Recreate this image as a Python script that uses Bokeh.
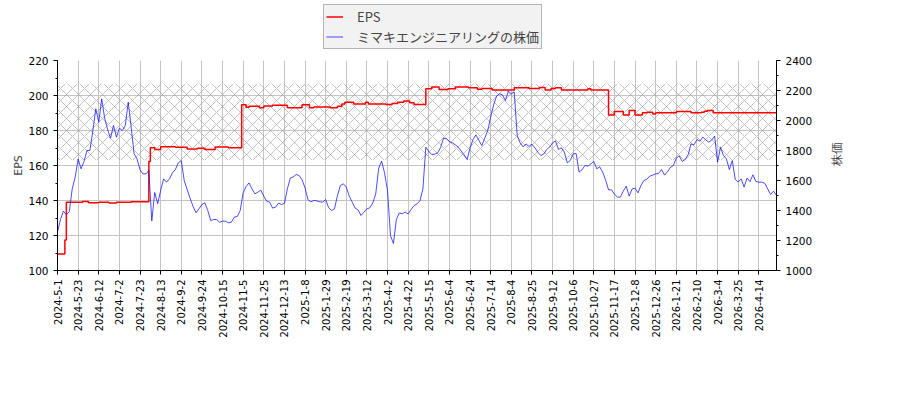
import math
from bokeh.plotting import figure
from bokeh.layouts import column
from bokeh.models import (Range1d, LinearAxis, FixedTicker, SingleIntervalTicker,
                          BoxAnnotation, Legend, LegendItem)
from bokeh.embed import file_html
from bokeh.resources import INLINE

# tick labels on the trading-day axis (one every 14 trading days)
date_labels = ["2024-5-1", "2024-5-23", "2024-6-12", "2024-7-2", "2024-7-23",
               "2024-8-13", "2024-9-2", "2024-9-24", "2024-10-15", "2024-11-5",
               "2024-11-25", "2024-12-13", "2025-1-8", "2025-1-29", "2025-2-19",
               "2025-3-12", "2025-4-2", "2025-4-22", "2025-5-15", "2025-6-4",
               "2025-6-24", "2025-7-14", "2025-8-4", "2025-8-25", "2025-9-12",
               "2025-10-6", "2025-10-27", "2025-11-17", "2025-12-8", "2025-12-26",
               "2026-1-21", "2026-2-10", "2026-3-4", "2026-3-25", "2026-4-14"]
n_days = 488

# share price, every 2nd trading day
price = [
    1256, 1340, 1396, 1371, 1393, 1544, 1622, 1744, 1678, 1727,
    1800, 1800, 1933, 2078, 1989, 2144, 2016, 1940, 1882, 1967,
    1889, 1949, 1933, 1967, 2122, 1956, 1778, 1744, 1671, 1644,
    1644, 1667, 1330, 1520, 1445, 1533, 1611, 1589, 1611, 1651,
    1673, 1718, 1733, 1600, 1540, 1482, 1427, 1385, 1411, 1440,
    1451, 1400, 1333, 1340, 1340, 1322, 1329, 1329, 1318,
    1322, 1356, 1360, 1400, 1518, 1560, 1584, 1544, 1511, 1522,
    1536, 1496, 1462, 1456, 1416, 1422, 1449, 1440, 1447, 1544,
    1616, 1624, 1640, 1633, 1604, 1551, 1471, 1458, 1467, 1464,
    1458, 1456, 1473, 1420, 1400, 1411, 1500, 1567, 1578, 1556,
    1496, 1456, 1416, 1404, 1367, 1389, 1411, 1418, 1451, 1511,
    1682, 1729, 1649, 1533, 1233, 1180, 1340, 1384, 1378, 1389,
    1378, 1407, 1433, 1444, 1465, 1544, 1822, 1793, 1773, 1776,
    1784, 1820, 1882, 1878, 1860, 1851, 1838, 1822, 1796, 1771,
    1740, 1816, 1873, 1904, 1867, 1833, 1882, 1933, 2022, 2104,
    2162, 2178, 2171, 2133, 2196, 2178, 2189, 1900, 1851, 1824,
    1844, 1827, 1842, 1818, 1789, 1767, 1776, 1807, 1822, 1851,
    1864, 1807, 1818, 1789, 1718, 1733, 1778, 1780, 1656,
    1671, 1700, 1696, 1711, 1727, 1678, 1691, 1656, 1604, 1538,
    1538, 1509, 1489, 1489, 1529, 1562, 1496, 1544, 1549, 1518,
    1567, 1600, 1609, 1629, 1636, 1644, 1647, 1673, 1636, 1658,
    1687, 1700, 1749, 1764, 1727, 1740, 1771, 1844, 1838, 1873,
    1862, 1889, 1871, 1856, 1869, 1896, 1722, 1822, 1767, 1744,
    1673, 1733, 1607, 1589, 1611, 1556, 1616, 1593, 1638, 1593,
    1589, 1589, 1582, 1544, 1507, 1529, 1500,
]

# EPS: trading day where each value starts
eps_day = [0, 5, 6, 17, 21, 28, 35, 40, 50, 62, 63, 66, 70, 80, 88, 95, 100, 107,
           116, 125, 128, 130, 137, 140, 146, 156, 166, 171, 174, 185, 190, 193,
           195, 201, 209, 211, 223, 227, 231, 235, 239, 242, 250, 254, 259, 265,
           270, 279, 285, 288, 295, 310, 320, 327, 331, 335, 338, 342, 360, 362,
           374, 378, 384, 388, 392, 397, 400, 404, 406, 420, 430, 437, 439, 441,
           445]
eps_val = [109.5, 117.5, 139.0, 139.4, 138.7, 139.0, 138.6, 139.0, 139.3, 162.3,
           170.1, 169.1, 170.7, 170.4, 169.5, 169.8, 169.1, 170.6, 170.1, 194.7,
           193.3, 193.9, 193.0, 194.0, 194.4, 193.0, 194.7, 193.0, 193.5, 193.0,
           193.9, 195.2, 196.2, 195.2, 196.2, 195.2, 194.8, 195.5, 196.2, 196.8,
           195.8, 194.9, 203.8, 204.8, 203.4, 203.8, 204.8, 204.4, 203.6, 204.0,
           203.2, 204.4, 204.0, 204.6, 203.2, 204.0, 204.4, 203.2, 203.8, 203.2,
           188.9, 190.9, 188.9, 191.4, 188.9, 190.1, 190.5, 189.5, 190.1, 190.9,
           190.1, 190.5, 191.0, 191.4, 190.1]

band_low, band_high = 163.2, 206.7

price_x = list(range(0, 2 * len(price), 2))
eps_x = eps_day + [n_days]
eps_y = eps_val + [eps_val[-1]]
tick_pos = [14 * i for i in range(len(date_labels))]

EPS_COLOR = "red"
PRICE_COLOR = "blue"

p = figure(width=884, height=328, min_border_left=57, min_border_top=8,
           min_border_right=108, min_border_bottom=110,
           x_range=Range1d(0, n_days), y_range=Range1d(100, 220),
           output_backend="svg", toolbar_location=None)
p.extra_y_ranges = {"price": Range1d(1000, 2400)}
p.outline_line_color = None
p.background_fill_color = "white"
p.border_fill_color = "white"

band = BoxAnnotation(bottom=band_low, top=band_high, fill_alpha=0, line_alpha=0,
                     hatch_pattern="diagonal_cross", hatch_scale=12,
                     hatch_color="#999999", hatch_weight=0.6, level="underlay")
p.add_layout(band)

p.step(eps_x, eps_y, mode="after", color=EPS_COLOR, line_width=1.5)
p.line(price_x, price, color=PRICE_COLOR, alpha=0.7, line_width=1,
       y_range_name="price")

# x axis
p.xaxis.ticker = FixedTicker(ticks=tick_pos)
p.xaxis.major_label_overrides = {t: s for t, s in zip(tick_pos, date_labels)}
p.xaxis.major_label_orientation = math.pi / 2
p.xaxis.major_label_text_font = "DejaVu Sans"
p.xaxis.major_label_text_font_size = "10px"
p.xgrid.ticker = FixedTicker(ticks=tick_pos)

# left axis
p.yaxis.ticker = SingleIntervalTicker(interval=20, num_minor_ticks=2)
p.yaxis.axis_label = "EPS"

ax2 = LinearAxis(y_range_name="price", axis_label="株価",
                 ticker=SingleIntervalTicker(interval=200, num_minor_ticks=2))
ax2.axis_label_orientation = math.pi / 2
p.add_layout(ax2, "right")

for ax in p.axis:
    ax.axis_line_color = "black"
    ax.major_tick_line_color = "black"
    ax.minor_tick_line_color = "black"
    ax.major_tick_in = 0
    ax.major_tick_out = 4
    ax.minor_tick_in = 0
    ax.minor_tick_out = 2
    ax.major_label_text_color = "black"
    ax.axis_label_text_font_style = "normal"
    ax.axis_label_text_font = "DejaVu Sans"
    ax.axis_label_text_font_size = "11px"
for ax in p.yaxis + [ax2]:
    ax.major_label_text_font = "DejaVu Sans"
    ax.major_label_text_font_size = "10.5px"
p.yaxis.axis_label_standoff = 0
ax2.axis_label_text_font_size = "12px"
ax2.axis_label_standoff = 22
p.xaxis.minor_tick_line_color = None

p.xgrid.grid_line_color = "#c4c4c4"
p.ygrid.grid_line_color = "#c4c4c4"

# legend strip above the chart (its lines fall outside this strip's range)
lf = figure(width=884, height=52, min_border=0, x_range=Range1d(0, 884),
            y_range=Range1d(0, 52), x_axis_type=None, y_axis_type=None,
            output_backend="svg", toolbar_location=None)
lf.outline_line_color = None
lf.grid.visible = False
k_eps = lf.line(eps_x, eps_y, color=EPS_COLOR, line_width=1.5)
k_price = lf.line(price_x, price, color=PRICE_COLOR, alpha=0.7, line_width=1)

legend = Legend(items=[LegendItem(label="EPS", renderers=[k_eps]),
                       LegendItem(label="ミマキエンジニアリングの株価", renderers=[k_price])],
                location=(266, 3))
legend.label_text_font = "Noto Sans CJK JP"
legend.label_text_font_size = "13px"
legend.label_height = 15
legend.glyph_height = 15
legend.glyph_width = 17
legend.label_standoff = 14
legend.spacing = 1
legend.padding = 2
legend.margin = 0
legend.background_fill_color = "#f2f2f2"
legend.background_fill_alpha = 1
legend.border_line_color = "#777777"
legend.border_line_width = 1
lf.add_layout(legend)

open("out.html", "w").write(file_html(column(lf, p), INLINE))
